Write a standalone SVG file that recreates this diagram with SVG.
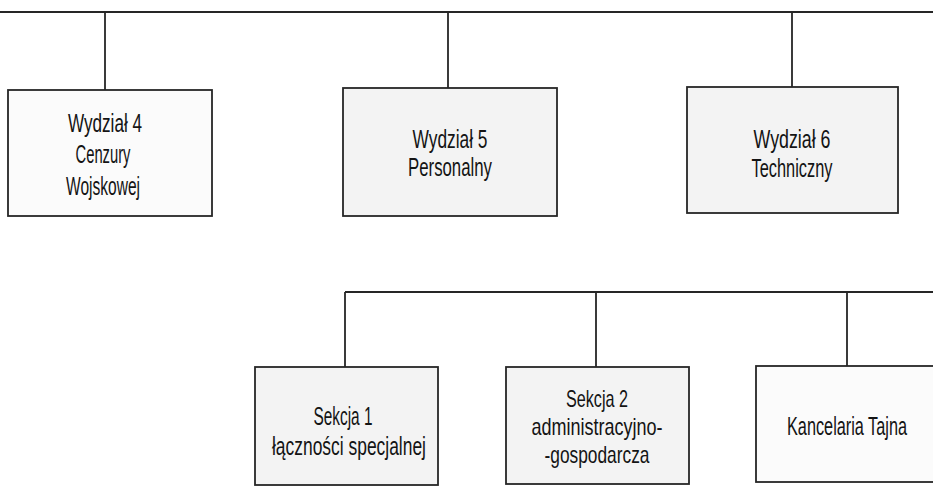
<svg xmlns="http://www.w3.org/2000/svg" width="933" height="487" viewBox="0 0 933 487">
<style>
.bg{fill:#ffffff}
.box{stroke:#262626;stroke-width:1.8;fill:#f3f3f3}
.box.light{fill:#fbfbfb}
.ln{stroke:#262626;stroke-width:1.8;fill:none}
text{font-family:"Liberation Sans",Arial,sans-serif;font-size:26px;fill:#141414;text-anchor:middle}
text.sm{font-size:24px}
</style>
<rect class="bg" x="0" y="0" width="933" height="487"/>
<g id="connectors">
<path class="ln" d="M0 12 H933 M105 12 V90 M448 12 V88 M792 12 V87"/>
<path class="ln" d="M345 292 H933 M345 292 V367 M596 292 V367 M847 292 V366"/>
</g>
<g id="wydzial4">
<rect class="box light" x="8" y="90" width="204" height="126"/>
<text x="105" y="132" textLength="74" lengthAdjust="spacingAndGlyphs">Wydział 4</text>
<text x="103" y="163" textLength="55" lengthAdjust="spacingAndGlyphs">Cenzury</text>
<text x="103" y="195" textLength="74" lengthAdjust="spacingAndGlyphs">Wojskowej</text>
</g>
<g id="wydzial5">
<rect class="box" x="343" y="88" width="214" height="128"/>
<text x="450" y="148" textLength="75" lengthAdjust="spacingAndGlyphs">Wydział 5</text>
<text x="450" y="176" textLength="84" lengthAdjust="spacingAndGlyphs">Personalny</text>
</g>
<g id="wydzial6">
<rect class="box" x="687" y="87" width="211" height="126"/>
<text x="792" y="148" textLength="77" lengthAdjust="spacingAndGlyphs">Wydział 6</text>
<text x="792" y="177" textLength="81" lengthAdjust="spacingAndGlyphs">Techniczny</text>
</g>
<g id="sekcja1">
<rect class="box" x="255" y="367" width="183" height="118"/>
<text x="343" y="425" textLength="59" lengthAdjust="spacingAndGlyphs">Sekcja 1</text>
<text x="349" y="455" textLength="154" lengthAdjust="spacingAndGlyphs">łączności specjalnej</text>
</g>
<g id="sekcja2">
<rect class="box" x="506" y="367" width="183" height="117"/>
<text class="sm" x="597" y="407" textLength="62" lengthAdjust="spacingAndGlyphs">Sekcja 2</text>
<text class="sm" x="597" y="435" textLength="131" lengthAdjust="spacingAndGlyphs">administracyjno-</text>
<text class="sm" x="597" y="463" textLength="105" lengthAdjust="spacingAndGlyphs">-gospodarcza</text>
</g>
<g id="kancelaria">
<rect class="box light" x="756" y="366" width="178" height="116"/>
<text x="847" y="435" textLength="120" lengthAdjust="spacingAndGlyphs">Kancelaria Tajna</text>
</g>
</svg>
